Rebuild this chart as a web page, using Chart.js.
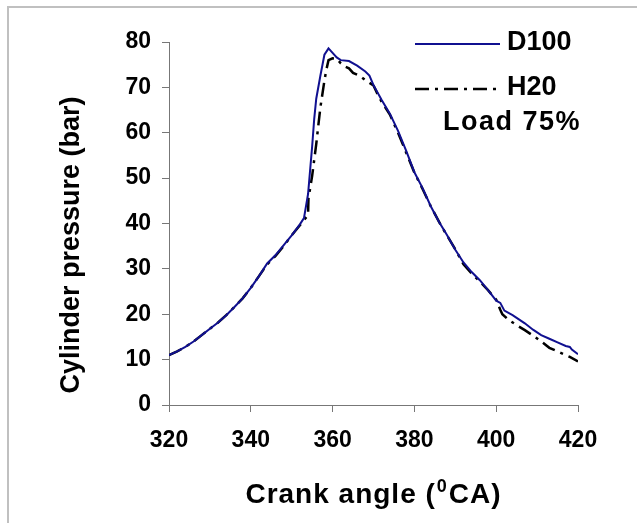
<!DOCTYPE html>
<html><head><meta charset="utf-8">
<script src="https://cdn.jsdelivr.net/npm/chart.js@4.4.1/dist/chart.umd.min.js"></script>
<style>html,body{margin:0;padding:0;background:#fff}#wrap{width:637px;height:523px;position:relative}</style>
</head><body><div id="wrap"><canvas id="c" width="637" height="523"></canvas></div>
<script>
// ---- data ----
const anglesD100 = [320,322,324,326,328,330,332,334,336,338,340,342,344,346,348,350,352,353,354,355,355.5,356,357,358,359,360,361,362,364,366,368,369,370,372,374,376,378,380,382,384,386,388,390,392,394,396,398,400,401,402,404,405,407,409,411,413,415,417,418,418.5,420];
const pressureD100 = [11.0,11.8,12.8,14.0,15.4,16.8,18.2,19.8,21.6,23.5,25.8,28.4,31.2,33.0,35.2,37.4,39.8,41.2,46.5,57.0,63.0,67.5,72.5,77.2,78.6,77.6,76.6,76.0,75.8,74.8,73.5,72.6,70.5,67.2,64.2,60.4,56.0,51.3,47.8,43.8,40.4,37.4,34.2,31.4,29.3,27.5,25.3,23.0,22.5,20.8,19.8,19.2,18.0,16.6,15.4,14.6,13.8,13.0,12.8,12.2,11.2];
const anglesH20 = [320,322,324,326,328,330,332,334,336,338,340,342,344,346,348,350,352,353,354,354.1,355,356,357,358,358.5,359,360,361,362,363,364,365,366,367,368,370,371,372,374,376,378,380,382,384,386,388,390,392,394,396,398,400,401,401.5,403,405,407,409,411,413,415,417,418,420];
const pressureH20 = [11.0,11.8,12.8,14.0,15.4,16.8,18.2,19.8,21.6,23.5,25.8,28.4,31.0,32.8,35.0,37.4,39.6,40.8,41.8,45.5,50.5,57.5,65.5,71.5,74.0,76.0,76.4,76.3,75.3,74.6,74.2,73.2,72.8,72.3,71.6,70.4,68.5,66.8,64.0,60.0,55.6,51.2,47.6,43.8,40.4,37.3,34.3,31.0,29.0,27.2,25.3,23.2,21.0,20.0,18.8,17.6,16.5,15.3,14.0,12.6,11.8,11.0,10.6,9.6];
const seriesNames = ['D100', 'H20'];
const noteText = 'Load 75%';
const xTickValues = [320,340,360,380,400,420];
const yTickValues = [0,10,20,30,40,50,60,70,80];
const xTitleParts = ['Crank angle (', '0', 'CA)'];
const yTitle = 'Cylinder pressure (bar)';

const toPoints = (xs, ys) => xs.map((x, i) => ({x, y: ys[i]}));
const FONT = '"Liberation Sans", Arial, sans-serif';
const blue = '#101090';
const dashPattern = [14, 6, 3, 6];

const decor = {
  id: 'decor',
  beforeDraw(chart) {
    const ctx = chart.ctx;
    ctx.save();
    ctx.fillStyle = '#fff';
    ctx.fillRect(0, 0, chart.width, chart.height);
    ctx.strokeStyle = '#c0c0c0';
    ctx.lineWidth = 2;
    ctx.strokeRect(8, 7, 700, 600);
    ctx.restore();
  },
  afterDraw(chart) {
    const ctx = chart.ctx;
    const area = chart.chartArea;
    ctx.save();
    // y title
    ctx.font = 'bold 27px ' + FONT;
    ctx.fillStyle = '#000';
    ctx.textAlign = 'center';
    ctx.textBaseline = 'middle';
    ctx.translate(72, 245);
    ctx.rotate(-Math.PI / 2);
    ctx.fillText(yTitle, 0, 0);
    ctx.restore();

    // x title with superscript
    ctx.save();
    ctx.fillStyle = '#000';
    ctx.textBaseline = 'alphabetic';
    ctx.textAlign = 'left';
    const mainFont = 'bold 28px ' + FONT;
    const supFont = 'bold 18px ' + FONT;
    ctx.letterSpacing = '1px';
    ctx.font = mainFont; const w0 = ctx.measureText(xTitleParts[0]).width;
    ctx.font = supFont; const w1 = ctx.measureText(xTitleParts[1]).width + 2;
    ctx.font = mainFont; const w2 = ctx.measureText(xTitleParts[2]).width;
    const cx = (area.left + area.right) / 2;
    let x = cx - (w0 + w1 + w2) / 2;
    const base = 503;
    ctx.font = mainFont; ctx.fillText(xTitleParts[0], x, base); x += w0;
    ctx.font = supFont; ctx.fillText(xTitleParts[1], x + 1, base - 11); x += w1;
    ctx.font = mainFont; ctx.fillText(xTitleParts[2], x, base);
    ctx.restore();

    ctx.save();
    // legend
    ctx.lineWidth = 2;
    ctx.strokeStyle = blue;
    ctx.beginPath(); ctx.moveTo(415, 44); ctx.lineTo(500, 44); ctx.stroke();
    ctx.strokeStyle = '#000';
    ctx.lineWidth = 2.5;
    ctx.setLineDash(dashPattern);
    ctx.beginPath(); ctx.moveTo(415, 89); ctx.lineTo(500, 89); ctx.stroke();
    ctx.setLineDash([]);
    ctx.font = 'bold 27px ' + FONT;
    ctx.fillStyle = '#000';
    ctx.textAlign = 'left';
    ctx.textBaseline = 'middle';
    ctx.fillText(seriesNames[0], 507, 43);
    ctx.fillText(seriesNames[1], 507, 88);
    ctx.letterSpacing = '1.5px';
    ctx.fillText(noteText, 443, 123);
    ctx.restore();
  }
};

new Chart(document.getElementById('c'), {
  type: 'line',
  data: {
    datasets: [
      { label: seriesNames[0], data: toPoints(anglesD100, pressureD100), borderColor: blue, borderWidth: 2, pointRadius: 0, tension: 0, fill: false },
      { label: seriesNames[1], data: toPoints(anglesH20, pressureH20), borderColor: '#000', borderWidth: 2.5, borderDash: dashPattern, pointRadius: 0, tension: 0, fill: false }
    ]
  },
  options: {
    responsive: false,
    animation: false,
    devicePixelRatio: 1,
    layout: { padding: { top: 42, right: 59, left: 0, bottom: 0 } },
    plugins: { legend: { display: false }, tooltip: { enabled: false } },
    scales: {
      x: {
        type: 'linear', min: 320, max: 420,
        afterBuildTicks: s => { s.ticks = xTickValues.map(v => ({value: v})); },
        afterFit: s => { s.height = 118; },
        ticks: { color: '#000', font: { family: FONT, size: 23, weight: 'bold' }, padding: 15, maxRotation: 0 },
        grid: { display: true, drawOnChartArea: false, drawTicks: true, tickLength: 7, color: '#777', lineWidth: 1 },
        border: { display: true, color: '#777', width: 1 },
        title: { display: false }
      },
      y: {
        min: 0, max: 80,
        afterBuildTicks: s => { s.ticks = yTickValues.map(v => ({value: v})); },
        afterFit: s => { s.width = 169; },
        ticks: { color: '#000', font: { family: FONT, size: 23, weight: 'bold' }, padding: 11 },
        grid: { display: true, drawOnChartArea: false, drawTicks: true, tickLength: 7, color: '#777', lineWidth: 1 },
        border: { display: true, color: '#777', width: 1 }
      }
    }
  },
  plugins: [decor]
});
</script>
</body></html>
